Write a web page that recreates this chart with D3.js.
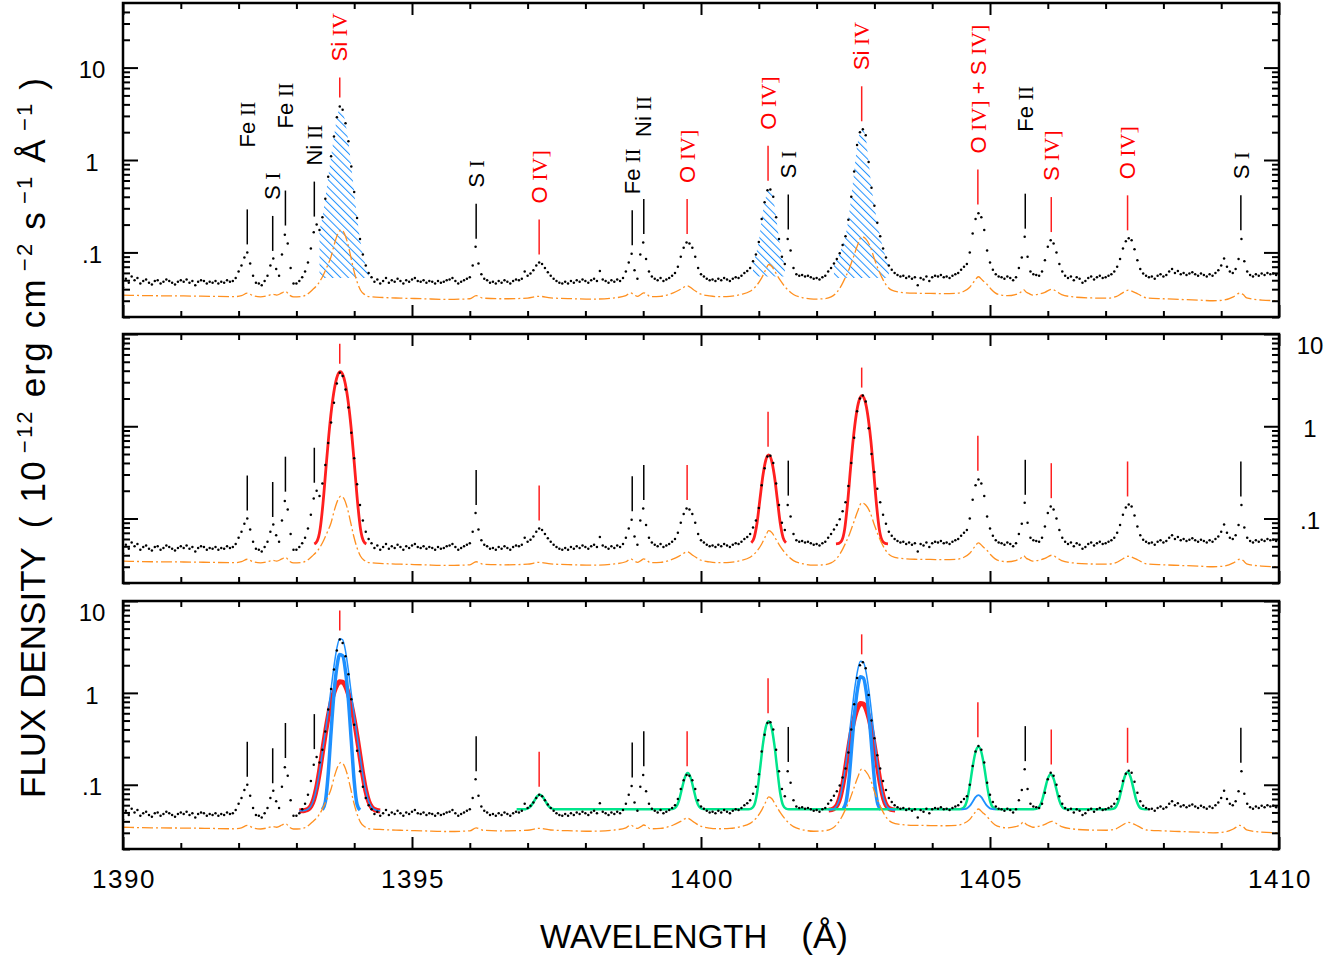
<!DOCTYPE html>
<html>
<head>
<meta charset="utf-8">
<script src="https://cdn.jsdelivr.net/npm/d3@7"></script>
<style>
  body { margin: 0; background: #fff; }
  svg { font-family: "Liberation Sans", Arial, sans-serif; }
  text { white-space: pre; }
</style>
</head>
<body>
<div id="container"></div>
<script>
/* SPECTRUM: black dots, 0.05 A sampling from 1390 A (flux in 1e-12 erg cm-2 s-1 A-1) */
const waveStart = 1390
const waveStep = 0.05
const flux = [
  0.042,0.052,0.047,0.055,0.050,0.053,0.046,0.049,0.051,0.047,0.045,0.049,0.050,0.046,0.048,0.051,0.049,0.047,0.045,0.048, // 1390
  0.050,0.048,0.051,0.047,0.049,0.044,0.048,0.050,0.049,0.046,0.048,0.047,0.049,0.046,0.048,0.047,0.050,0.048,0.049,0.053, // 1391
  0.062,0.072,0.088,0.100,0.076,0.056,0.047,0.046,0.044,0.049,0.056,0.072,0.086,0.066,0.056,0.095,0.155,0.125,0.068,0.046, // 1392
  0.046,0.049,0.054,0.062,0.078,0.110,0.165,0.200,0.175,0.240,0.380,0.660,1.100,1.800,2.900,3.800,3.500,2.500,1.600,0.850, // 1393
  0.450,0.235,0.140,0.095,0.072,0.060,0.054,0.048,0.051,0.046,0.049,0.053,0.047,0.050,0.048,0.052,0.049,0.046,0.050,0.048, // 1394
  0.051,0.053,0.049,0.048,0.050,0.047,0.049,0.048,0.046,0.049,0.047,0.048,0.050,0.051,0.053,0.049,0.046,0.048,0.050,0.052, // 1395
  0.054,0.072,0.115,0.076,0.058,0.052,0.050,0.047,0.048,0.046,0.049,0.047,0.050,0.048,0.046,0.049,0.051,0.050,0.052,0.062, // 1396
  0.056,0.059,0.064,0.072,0.078,0.075,0.068,0.061,0.056,0.052,0.049,0.047,0.046,0.048,0.046,0.049,0.047,0.050,0.048,0.051, // 1397
  0.049,0.047,0.050,0.052,0.049,0.063,0.051,0.049,0.047,0.050,0.048,0.051,0.049,0.053,0.062,0.078,0.097,0.064,0.052,0.095, // 1398
  0.128,0.085,0.062,0.055,0.052,0.050,0.053,0.049,0.051,0.053,0.056,0.060,0.070,0.090,0.112,0.128,0.125,0.112,0.090,0.068, // 1399
  0.058,0.055,0.052,0.050,0.051,0.049,0.052,0.050,0.053,0.051,0.049,0.052,0.054,0.053,0.056,0.060,0.063,0.068,0.080,0.095, // 1400
  0.130,0.230,0.350,0.470,0.480,0.400,0.240,0.140,0.090,0.075,0.140,0.105,0.068,0.058,0.056,0.057,0.055,0.056,0.054,0.052, // 1401
  0.053,0.051,0.054,0.056,0.062,0.068,0.076,0.085,0.098,0.120,0.150,0.225,0.400,0.750,1.450,2.000,2.150,1.850,0.950,0.500, // 1402
  0.320,0.210,0.150,0.110,0.088,0.072,0.065,0.060,0.057,0.055,0.056,0.053,0.055,0.052,0.054,0.044,0.053,0.051,0.055,0.049, // 1403
  0.054,0.056,0.055,0.057,0.054,0.055,0.053,0.056,0.058,0.060,0.065,0.070,0.075,0.100,0.160,0.230,0.265,0.240,0.175,0.105, // 1404
  0.078,0.065,0.058,0.055,0.054,0.052,0.055,0.053,0.050,0.054,0.068,0.088,0.148,0.090,0.062,0.058,0.057,0.056,0.062,0.082, // 1405
  0.115,0.135,0.125,0.100,0.075,0.062,0.056,0.053,0.055,0.050,0.054,0.052,0.047,0.049,0.053,0.055,0.051,0.054,0.056,0.053, // 1406
  0.054,0.056,0.058,0.062,0.070,0.085,0.110,0.132,0.142,0.135,0.108,0.082,0.066,0.059,0.056,0.054,0.055,0.052,0.056,0.058, // 1407
  0.055,0.057,0.062,0.066,0.060,0.063,0.058,0.060,0.057,0.059,0.061,0.058,0.056,0.059,0.057,0.055,0.058,0.056,0.060,0.064, // 1408
  0.072,0.086,0.070,0.062,0.060,0.066,0.085,0.140,0.080,0.062,0.057,0.055,0.058,0.056,0.059,0.057,0.060,0.058,0.059,0.057, // 1409
  0.058
]

/* ERROR SPECTRUM: orange dash-dot */
const errWave = [1390.00,1390.50,1391.05,1391.50,1391.92,1392.05,1392.15,1392.25,1392.38,1392.50,1392.59,1392.66,1392.75,1392.81,1392.88,1392.95,
  1393.07,1393.18,1393.27,1393.38,1393.46,1393.53,1393.60,1393.66,1393.72,1393.77,1393.82,1393.88,1393.94,1393.99,1394.05,1394.11,1394.18,1394.23,
  1394.50,1394.80,1395.20,1395.60,1396.00,1396.11,1396.23,1396.60,1397.00,1397.20,1397.40,1397.80,1398.10,1398.50,1398.70,1398.78,1398.85,1398.90,
  1398.96,1399.01,1399.07,1399.12,1399.30,1399.52,1399.65,1399.76,1399.87,1399.99,1400.15,1400.30,1400.50,1400.68,1400.85,1400.95,1401.05,1401.12,
  1401.17,1401.23,1401.28,1401.37,1401.46,1401.60,1401.75,1401.95,1402.12,1402.25,1402.35,1402.43,1402.50,1402.57,1402.64,1402.71,1402.78,1402.85,
  1402.93,1403.00,1403.07,1403.14,1403.22,1403.30,1403.45,1403.70,1403.97,1404.20,1404.43,1404.55,1404.65,1404.73,1404.80,1404.87,1404.95,1405.02,
  1405.09,1405.20,1405.30,1405.44,1405.53,1405.58,1405.63,1405.67,1405.74,1405.81,1405.95,1406.07,1406.16,1406.24,1406.44,1406.70,1407.02,1407.18,
  1407.28,1407.39,1407.48,1407.56,1407.71,1408.00,1408.28,1408.60,1408.86,1409.05,1409.21,1409.32,1409.38,1409.44,1409.70,1410.00]
const errFlux = [0.0345,0.0340,0.0338,0.0335,0.0332,0.0340,0.0362,0.0340,0.0330,0.0340,0.0352,0.0345,0.0365,0.0380,0.0345,0.0330,
  0.0332,0.0350,0.0390,0.0460,0.0560,0.0700,0.0900,0.1250,0.1600,0.1750,0.1650,0.1300,0.0900,0.0650,0.0480,0.0390,0.0350,0.0335,
  0.0325,0.0320,0.0315,0.0310,0.0315,0.0340,0.0320,0.0315,0.0320,0.0335,0.0322,0.0315,0.0312,0.0322,0.0340,0.0365,0.0345,0.0335,
  0.0350,0.0365,0.0350,0.0332,0.0335,0.0365,0.0400,0.0435,0.0395,0.0355,0.0338,0.0332,0.0335,0.0350,0.0380,0.0430,0.0530,0.0650,
  0.0740,0.0700,0.0620,0.0500,0.0420,0.0350,0.0325,0.0312,0.0315,0.0330,0.0370,0.0440,0.0540,0.0680,0.0900,0.1200,0.1480,0.1400,
  0.1150,0.0850,0.0650,0.0520,0.0430,0.0390,0.0370,0.0362,0.0360,0.0358,0.0362,0.0380,0.0420,0.0490,0.0545,0.0500,0.0450,0.0400,
  0.0365,0.0345,0.0340,0.0350,0.0370,0.0395,0.0370,0.0360,0.0345,0.0350,0.0370,0.0400,0.0375,0.0350,0.0330,0.0322,0.0320,0.0332,
  0.0360,0.0390,0.0375,0.0355,0.0322,0.0315,0.0310,0.0305,0.0300,0.0305,0.0330,0.0362,0.0350,0.0322,0.0305,0.0300]

/* LINE IDENTIFICATIONS */
const lineWave = [1392.15,1392.59,1392.81,1393.31,1393.75,1396.11,1397.20,1398.81,1399.01,1399.76,1401.16,1401.51,1402.78,1404.79,1405.61,1406.06,1407.38,1409.34]
const lineName = ["Fe II","S I","Fe II","Ni II","Si IV","S I","O IV]","Fe II","Ni II","O IV]","O IV]","S I","Si IV","O IV] + S IV]","Fe II","S IV]","O IV]","S I"]
const lineRed = [0,0,0,0,1,0,1,0,0,1,1,0,1,1,0,1,1,0]
const linePeak = [0.10,0.085,0.16,0.20,3.9,0.115,0.078,0.098,0.13,0.13,0.49,0.145,2.15,0.27,0.148,0.136,0.142,0.142]
const labelRaise = [1,0,1,0,0,0,0,0,1,0,0,0,0,0,1,0,0,0]
const shortMarks = [[1393.75], [1393.75, 1402.78], [1393.75, 1402.78]]

/* TOP PANEL: hatched line windows [from, to, continuum] */
const hatchFrom = [1393.40, 1400.90, 1402.30]
const hatchTo = [1394.27, 1401.45, 1403.25]
const hatchBase = [0.053, 0.055, 0.053]

/* FITS, sampled every 0.05 A from a start wavelength */
const fitStep = 0.05
// middle panel: single gaussian fits (red)
const p2Si1393 = { start: 1393.31, values: [0.0529,0.0572,0.0764,0.146,0.343,0.789,1.571,2.599,3.524,3.902,3.524,2.599,1.571,0.789,0.343,0.146,0.0764,0.0572,0.0529] }
const p2O1401 = { start: 1400.87, values: [0.0547,0.0622,0.090,0.162,0.289,0.428,0.490,0.428,0.289,0.162,0.090,0.0622,0.0547] }
const p2Si1402 = { start: 1402.335, values: [0.053,0.0537,0.0576,0.0763,0.145,0.337,0.735,1.327,1.906,2.153,1.906,1.327,0.735,0.337,0.145,0.0763,0.0576,0.0537,0.053] }
// bottom panel: broad (red), narrow (blue) and total (thin blue) Si IV components
const p3Broad1393 = { start: 1393.05, values: [0.052,0.052,0.0527,0.0542,0.0585,0.0692,0.0928,0.140,0.225,0.360,0.549,0.780,1.018,1.215,1.322,1.310,1.182,0.972,0.732,0.508,0.329,0.205,0.128,0.0866,0.0662,0.0573,0.0538,0.0525,0.052] }
const p3Narrow1393 = { start: 1393.45, values: [0.0536,0.065,0.131,0.377,0.98,1.91,2.62,2.53,1.72,0.83,0.30,0.109,0.061,0.053] }
const p3Total1393 = { start: 1393.05, values: [0.052,0.052,0.0527,0.0542,0.0585,0.0692,0.0928,0.140,0.227,0.373,0.628,1.105,1.946,3.073,3.890,3.788,2.850,1.750,0.980,0.565,0.338,0.206,0.128,0.0866,0.0662,0.0573,0.0538,0.0525,0.052] }
const p3Broad1402 = { start: 1402.21, values: [0.0532,0.0537,0.0556,0.061,0.075,0.106,0.165,0.262,0.398,0.552,0.688,0.766,0.756,0.664,0.521,0.368,0.240,0.150,0.098,0.071,0.059,0.055,0.0536,0.053] }
const p3Narrow1402 = { start: 1402.46, values: [0.0547,0.065,0.1135,0.272,0.625,1.124,1.494,1.447,1.023,0.538,0.227,0.098,0.0613,0.054] }
const p3Total1402 = { start: 1402.21, values: [0.0532,0.0537,0.0556,0.061,0.075,0.108,0.177,0.323,0.617,1.124,1.759,2.207,2.150,1.634,1.006,0.542,0.285,0.158,0.099,0.071,0.059,0.055,0.0536,0.053] }
const p3S1405 = { start: 1404.50, values: [0.054,0.0543,0.0554,0.0589,0.0655,0.0733,0.077,0.0733,0.0655,0.0589,0.0554,0.0543,0.054] }
// bottom panel: O IV] / S IV] multi-line fit (green)
const greenWave = [1396.81,1396.91,1396.96,1397.01,1397.06,1397.11,1397.16,1397.21,1397.26,1397.31,1397.36,1397.41,1397.46,1397.51,
  1399.47,1399.52,1399.57,1399.62,1399.67,1399.72,1399.77,1399.82,1399.87,1399.92,1399.97,1400.02,1400.07,
  1400.82,1400.87,1400.92,1400.97,1401.02,1401.07,1401.12,1401.17,1401.22,1401.27,1401.32,1401.37,1401.42,1401.47,1401.52,
  1404.45,1404.50,1404.55,1404.60,1404.65,1404.70,1404.75,1404.80,1404.85,1404.90,1404.95,1405.00,1405.05,1405.10,1405.15,
  1405.75,1405.80,1405.85,1405.90,1405.95,1406.00,1406.05,1406.10,1406.15,1406.20,1406.25,1406.30,1406.35,
  1407.08,1407.13,1407.18,1407.23,1407.28,1407.33,1407.38,1407.43,1407.48,1407.53,1407.58,1407.63,1407.68,1407.73]
const greenFlux = [0.054,0.054,0.0543,0.0555,0.059,0.066,0.0742,0.078,0.0742,0.066,0.059,0.0555,0.0543,0.054,
  0.054,0.0546,0.0575,0.0678,0.0906,0.1198,0.134,0.1198,0.0906,0.0678,0.0575,0.0546,0.054,
  0.054,0.0549,0.0598,0.0814,0.146,0.272,0.421,0.49,0.421,0.272,0.146,0.0814,0.0598,0.0549,0.054,
  0.054,0.0544,0.0567,0.0669,0.0975,0.157,0.2273,0.26,0.2273,0.157,0.0975,0.0669,0.0567,0.0544,0.054,
  0.054,0.0546,0.0573,0.0671,0.0888,0.1165,0.13,0.1165,0.0888,0.0671,0.0573,0.0546,0.054,
  0.054,0.0546,0.0577,0.0683,0.092,0.1223,0.137,0.1223,0.092,0.0683,0.0577,0.0546,0.054,0.054]

/* AXES */
const xMajor = [1390, 1395, 1400, 1405, 1410]
const xMinor = [1391,1392,1393,1394,1396,1397,1398,1399,1401,1402,1403,1404,1406,1407,1408,1409]
const yMajor = [0.1, 1, 10]
const yMajorLabels = [".1", "1", "10"]
const yMinor = [0.02,0.03,0.04,0.05,0.06,0.07,0.08,0.09,0.2,0.3,0.4,0.5,0.6,0.7,0.8,0.9,2,3,4,5,6,7,8,9,20,30,40]

/* CONSTANTS AND GLOBALS */
const width = 1344, height = 963
const panels = [
  { top: 3, bottom: 317, max: 50, labelX: 92 },
  { top: 334, bottom: 583, max: 10, labelX: 1310 },
  { top: 601, bottom: 849, max: 10, labelX: 92 }
]
const RED = "#ff1f1f", BLUE = "#1e90ff", GREEN = "#00e58c", ORANGE = "#ff9020"

const spectrum = flux.map((f, i) => ({ wave: waveStart + i * waveStep, flux: f }))
const errCurve = errWave.map((w, i) => [w, errFlux[i]])
const greenCurve = greenWave.map((w, i) => [w, greenFlux[i]])
const lines = lineWave.map((w, i) => ({ wave: w, name: lineName[i], red: lineRed[i], peak: linePeak[i], raise: labelRaise[i] }))
const fitPoints = f => f.values.map((v, i) => [f.start + i * fitStep, v])

const xScale = d3.scaleLinear()
  .domain([1390, 1410])
  .range([123, 1279])

const svg = d3.select("#container")
  .append("svg")
  .attr("width", width)
  .attr("height", height)

const defs = svg.append("defs")
defs.append("pattern")
  .attr("id", "hatch")
  .attr("patternUnits", "userSpaceOnUse")
  .attr("width", 5.5)
  .attr("height", 6)
  .attr("patternTransform", "rotate(-45)")
  .append("line")
  .attr("x1", 0).attr("y1", 0).attr("x2", 0).attr("y2", 6)
  .attr("stroke", BLUE)
  .attr("stroke-width", 2)

panels.forEach((p, pi) => {
  const yScale = d3.scaleLog()
    .domain([0.02, p.max])
    .range([p.bottom, p.top])

  defs.append("clipPath")
    .attr("id", `clip${pi}`)
    .append("rect")
    .attr("x", 123).attr("y", p.top)
    .attr("width", 1156).attr("height", p.bottom - p.top)

  const g = svg.append("g").attr("clip-path", `url(#clip${pi})`)

  const lineGen = d3.line()
    .x(d => xScale(d[0]))
    .y(d => yScale(d[1]))
    .curve(d3.curveMonotoneX)

  const drawFit = (pts, color, w) => g.append("path")
    .attr("d", lineGen(pts))
    .attr("fill", "none")
    .attr("stroke", color)
    .attr("stroke-width", w)
    .attr("stroke-linejoin", "round")

  // HATCHED LINE FLUXES (top panel)
  if (pi === 0) {
    hatchFrom.forEach((from, k) => {
      const pts = spectrum.filter(d => d.wave >= from - 1e-6 && d.wave <= hatchTo[k] + 1e-6)
      const areaGen = d3.area()
        .x(d => xScale(d.wave))
        .y0(yScale(hatchBase[k]))
        .y1(d => yScale(d.flux))
      g.append("path")
        .attr("d", areaGen(pts))
        .attr("fill", "url(#hatch)")
    })
  }

  // FITS
  if (pi === 1) {
    [p2Si1393, p2O1401, p2Si1402].forEach(f => drawFit(fitPoints(f), RED, 2.8))
  }
  if (pi === 2) {
    drawFit(fitPoints(p3Broad1393), RED, 5)
    drawFit(fitPoints(p3Broad1402), RED, 5)
    drawFit(fitPoints(p3Narrow1393), BLUE, 3.5)
    drawFit(fitPoints(p3Narrow1402), BLUE, 3.5)
    drawFit(greenCurve, GREEN, 2.5)
    drawFit(fitPoints(p3S1405), BLUE, 1.8)
    drawFit(fitPoints(p3Total1393), BLUE, 1.5)
    drawFit(fitPoints(p3Total1402), BLUE, 1.5)
  }

  // ERROR SPECTRUM
  g.append("path")
    .attr("d", lineGen(errCurve))
    .attr("fill", "none")
    .attr("stroke", ORANGE)
    .attr("stroke-width", 1.3)
    .attr("stroke-dasharray", "11,3,2,3")

  // DATA POINTS
  g.selectAll(".dot")
    .data(spectrum)
    .join("circle")
    .attr("class", "dot")
    .attr("cx", d => xScale(d.wave))
    .attr("cy", d => yScale(d.flux))
    .attr("r", 1.25)
    .attr("fill", "#000")

  // LINE MARKERS
  const markLen = d => shortMarks[pi].includes(d.wave) ? 20 : 35
  svg.append("g").selectAll("line")
    .data(lines)
    .join("line")
    .attr("x1", d => xScale(d.wave))
    .attr("x2", d => xScale(d.wave))
    .attr("y1", d => yScale(d.peak) - 8)
    .attr("y2", d => yScale(d.peak) - 8 - markLen(d))
    .attr("stroke", d => d.red ? RED : "#000")
    .attr("stroke-width", 1.5)

  // LINE LABELS (top panel)
  if (pi === 0) {
    const labels = svg.append("g").selectAll("text")
      .data(lines)
      .join("text")
      .attr("transform", d => `translate(${xScale(d.wave)}, ${yScale(d.peak) - 8 - markLen(d) - (d.raise ? 62 : 16)}) rotate(-90)`)
      .attr("dy", "0.35em")
      .attr("font-size", 22)
      .attr("fill", d => d.red ? "#ff0000" : "#000")
    labels.each(function (d) {
      const t = d3.select(this)
      d.name.split(" ").forEach((tok, k) => {
        t.append("tspan")
          .attr("font-family", /^[IV\]]+$/.test(tok) ? "'Liberation Serif', serif" : null)
          .text((k ? " " : "") + tok)
      })
    })
  }

  // AXES: ticks inward on all four sides
  const ax = svg.append("g")
  ax.append("g").attr("transform", `translate(0, ${p.bottom})`)
    .call(d3.axisBottom(xScale).tickValues(xMajor).tickSize(-12).tickFormat(""))
  ax.append("g").attr("transform", `translate(0, ${p.bottom})`)
    .call(d3.axisBottom(xScale).tickValues(xMinor).tickSize(-6).tickFormat(""))
  ax.append("g").attr("transform", `translate(0, ${p.top})`)
    .call(d3.axisTop(xScale).tickValues(xMajor).tickSize(-12).tickFormat(""))
  ax.append("g").attr("transform", `translate(0, ${p.top})`)
    .call(d3.axisTop(xScale).tickValues(xMinor).tickSize(-6).tickFormat(""))
  const yMaj = yMajor.filter(v => v <= p.max)
  const yMin = yMinor.filter(v => v <= p.max)
  ax.append("g").attr("transform", `translate(123, 0)`)
    .call(d3.axisLeft(yScale).tickValues(yMaj).tickSize(-15).tickFormat(""))
  ax.append("g").attr("transform", `translate(123, 0)`)
    .call(d3.axisLeft(yScale).tickValues(yMin).tickSize(-7).tickFormat(""))
  ax.append("g").attr("transform", `translate(1279, 0)`)
    .call(d3.axisRight(yScale).tickValues(yMaj).tickSize(-15).tickFormat(""))
  ax.append("g").attr("transform", `translate(1279, 0)`)
    .call(d3.axisRight(yScale).tickValues(yMin).tickSize(-7).tickFormat(""))
  ax.selectAll(".domain").remove()
  ax.selectAll(".tick line").attr("stroke", "#000").attr("stroke-width", 2)

  svg.append("rect")
    .attr("x", 123).attr("y", p.top)
    .attr("width", 1156).attr("height", p.bottom - p.top)
    .attr("fill", "none")
    .attr("stroke", "#000")
    .attr("stroke-width", 2.5)

  // Y TICK LABELS (a label sitting on the frame top is nudged down)
  svg.append("g").selectAll("text")
    .data(yMajor)
    .join("text")
    .attr("x", p.labelX)
    .attr("y", d => yScale(d) + 2 + (Math.abs(yScale(d) - p.top) < 1 ? 9 : 0))
    .attr("dy", "0.36em")
    .attr("text-anchor", "middle")
    .attr("font-size", 24)
    .text((d, i) => yMajorLabels[i])

  // X TICK LABELS (bottom panel)
  if (pi === 2) {
    svg.append("g").selectAll("text")
      .data(xMajor)
      .join("text")
      .attr("x", d => xScale(d) + 1)
      .attr("y", 888)
      .attr("text-anchor", "middle")
      .attr("font-size", 26)
      .attr("letter-spacing", 1.5)
      .text(d => d)
  }
})

// AXIS TITLES
const xTitle = svg.append("text")
  .attr("x", 540)
  .attr("y", 948)
  .attr("font-size", 33)
xTitle.append("tspan").text("WAVELENGTH")
xTitle.append("tspan").attr("dx", 34).attr("font-size", 35).text("(Å)")

const yTitle = svg.append("text")
  .attr("transform", "translate(45, 798) rotate(-90)")
  .attr("font-size", 35)
const unit = (s, dy) => yTitle.append("tspan").attr("dy", dy).attr("letter-spacing", 2.2).text(s)
const sup = s => yTitle.append("tspan").attr("dx", 6).attr("dy", -13).attr("font-size", 22).attr("letter-spacing", 2.2).text(s)
yTitle.append("tspan").text("FLUX DENSITY  ")
unit("( 10", 0)
sup("−12")
unit(" erg cm", 13)
sup("−2")
unit(" s", 13)
sup("−1")
unit(" Å", 13)
sup("−1")
unit(" )", 13)
</script>
</body>
</html>
